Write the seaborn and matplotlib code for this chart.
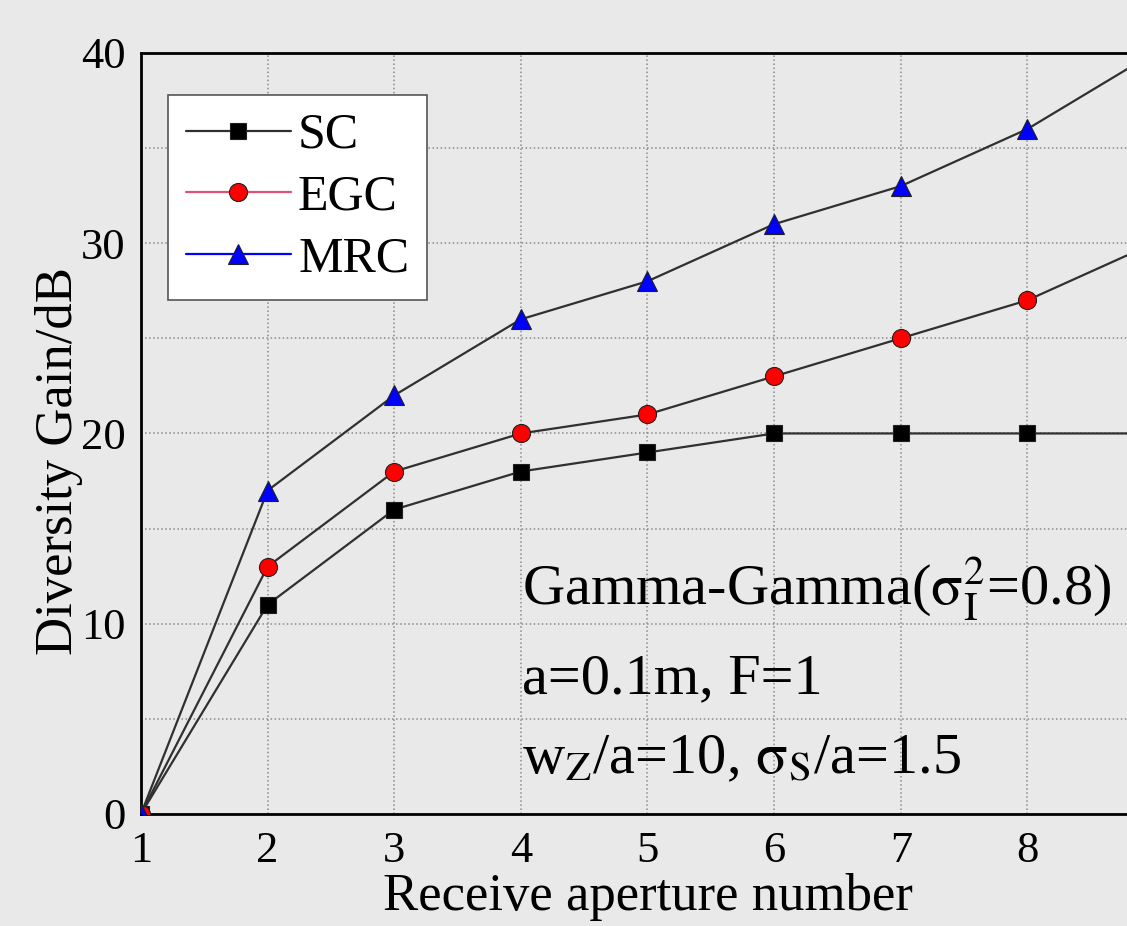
import matplotlib
matplotlib.use("Agg")
import matplotlib.pyplot as plt
from matplotlib.lines import Line2D
from matplotlib.ticker import MultipleLocator
import seaborn as sns
import pandas as pd

apertures = [1, 2, 3, 4, 5, 6, 7, 8, 9]
sc_gain = [0, 11, 16, 18, 19, 20, 20, 20, 20]
egc_gain = [0, 13, 18, 20, 21, 23, 25, 27, 30]
mrc_gain = [0, 17, 22, 26, 28, 31, 33, 36, 40]
series_names = ["SC", "EGC", "MRC"]
x_ticks = [1, 2, 3, 4, 5, 6, 7, 8]
y_ticks = [0, 10, 20, 30, 40]

sns.set_theme(style="white")
plt.rcParams['font.family'] = ['Liberation Serif', 'DejaVu Serif']
plt.rcParams['mathtext.fontset'] = 'stix'
plt.rcParams['text.color'] = 'black'
plt.rcParams['axes.labelcolor'] = 'black'
plt.rcParams['xtick.color'] = 'black'
plt.rcParams['ytick.color'] = 'black'

bg = '#e9e9e9'
fig = plt.figure(figsize=(11.27, 9.26), dpi=100, facecolor=bg)
ax = fig.add_axes([0.1251, 0.121, 0.8988, 0.8218])
ax.set_facecolor(bg)

styles = {
    "SC": dict(marker='s', mfc='black', ms=11, lc='#303030'),
    "EGC": dict(marker='o', mfc='#ff0000', ms=13, lc='#e05070'),
    "MRC": dict(marker='^', mfc='#0000ff', ms=14, lc='#0000ff'),
}
values = {"SC": sc_gain, "EGC": egc_gain, "MRC": mrc_gain}

for name in series_names:
    st = styles[name]
    df = pd.DataFrame({"x": apertures, "y": values[name]})
    sns.lineplot(data=df, x="x", y="y", ax=ax, color='#303030', linewidth=1.6,
                 marker=st['marker'], markersize=st['ms'],
                 markerfacecolor=st['mfc'], markeredgecolor='#202020',
                 markeredgewidth=0.8, zorder=3)

ax.set_xlim(1, 9)
ax.set_ylim(0, 40)
ax.set_xticks(x_ticks)
ax.set_yticks(y_ticks)
ax.yaxis.set_minor_locator(MultipleLocator(5))
ax.tick_params(axis='both', which='major', direction='in', length=11, width=1.8,
               labelsize=32, colors='black')
ax.tick_params(axis='y', which='minor', direction='in', length=6, width=1.8)
ax.tick_params(axis='x', which='major', pad=12)
ax.tick_params(axis='y', which='major', pad=11)
ax.tick_params(top=False, right=False)

ax.grid(True, which='major', axis='x', linestyle=':', color='#8a8a8a', linewidth=1.1)
ax.grid(True, which='both', axis='y', linestyle=':', color='#8a8a8a', linewidth=1.1)

for s in ['left', 'bottom', 'top']:
    ax.spines[s].set_color('black')
    ax.spines[s].set_linewidth(2.0)
ax.spines['right'].set_visible(False)

ax.set_xlabel("Receive aperture number", fontsize=38)
ax.set_ylabel("Diversity Gain/dB", fontsize=38)
ax.xaxis.set_label_coords(0.5007, -0.078)
ax.yaxis.set_label_coords(-0.057, 0.464)

handles = []
for name in series_names:
    st = styles[name]
    handles.append(Line2D([0], [0], color=st['lc'],
                          linewidth=1.6, marker=st['marker'], markersize=st['ms'],
                          markerfacecolor=st['mfc'], markeredgecolor='#202020',
                          markeredgewidth=0.8))
leg = ax.legend(handles, series_names, loc='upper left',
                bbox_to_anchor=(168 / 1127, 1 - 95 / 926), bbox_transform=fig.transFigure,
                fontsize=36, frameon=True, fancybox=False, handlelength=2.1,
                handletextpad=0.15, labelspacing=0.3, borderpad=0.35,
                borderaxespad=0)
leg.get_frame().set_facecolor('white')
leg.get_frame().set_edgecolor('#555555')
leg.get_frame().set_linewidth(1.2)
leg.get_frame().set_alpha(1)

fs = 42
fig.text(522 / 1127, 1 - 605 / 926, r"Gamma-Gamma($\mathrm{\sigma}_\mathrm{I}^{2}$=0.8)",
         fontsize=fs, ha='left', va='baseline')
fig.text(522 / 1127, 1 - 693 / 926, "a=0.1m, F=1", fontsize=fs, ha='left', va='baseline')
fig.text(522 / 1127, 1 - 773 / 926, r"w$_\mathrm{Z}$/a=10, $\mathrm{\sigma}_\mathrm{S}$/a=1.5",
         fontsize=fs, ha='left', va='baseline')

fig.savefig("out.png", dpi=100, facecolor=bg)
